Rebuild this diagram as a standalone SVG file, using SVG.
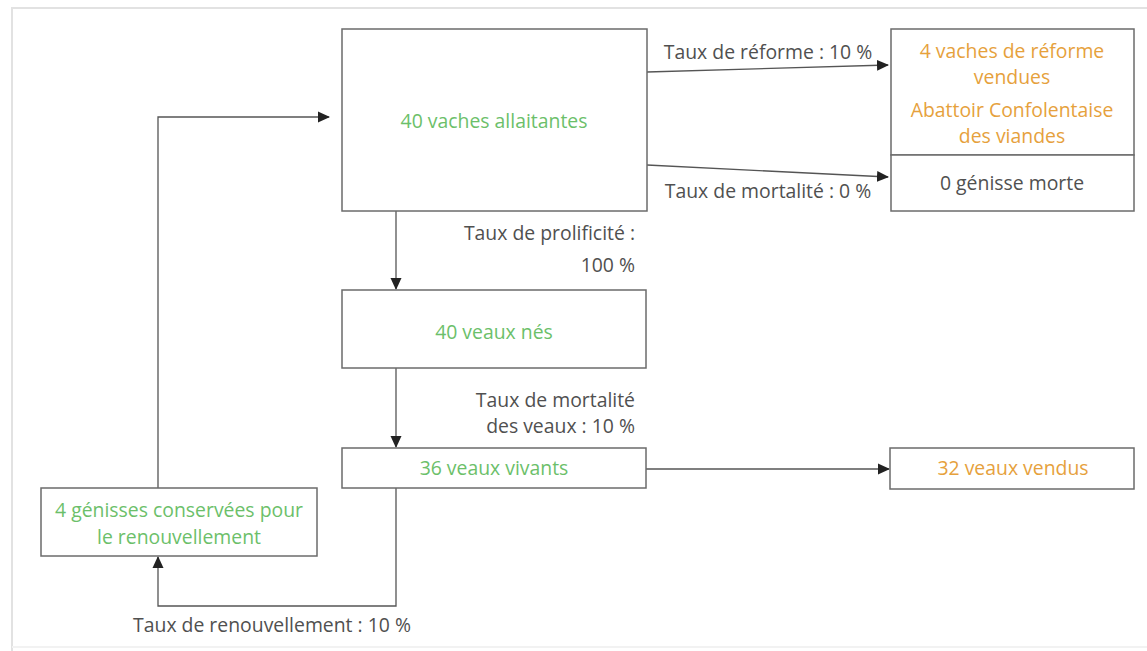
<svg xmlns="http://www.w3.org/2000/svg" width="1147" height="651" viewBox="0 0 1147 651">
<defs>
<style>
.box{fill:#fff;stroke:#6b6b6b;stroke-width:1.5}
.t{font-family:"Open Sans","Noto Sans",sans-serif;font-size:19.4px}
.g{fill:#6cbf6a}
.o{fill:#e6a13c}
.k{fill:#505050}
.c{text-anchor:middle}
.r{text-anchor:end}
.ln{fill:none;stroke:#555;stroke-width:1.3}
</style>
<marker id="ah" markerWidth="12" markerHeight="12" refX="11" refY="6" orient="auto" markerUnits="userSpaceOnUse">
<path d="M0,0.5 L12,6 L0,11.5 Z" fill="#222"/>
</marker>
</defs>
<rect width="1147" height="651" fill="#fff"/>
<path d="M12,651 L12,8 L1147,8" fill="none" stroke="#e2e2e2" stroke-width="2"/>
<path d="M12,647 L1147,647" fill="none" stroke="#f2f2f2" stroke-width="2"/>

<g id="connectors">
<path class="ln" d="M647,72 L888,65" marker-end="url(#ah)"/>
<path class="ln" d="M647,165 L888,177" marker-end="url(#ah)"/>
<path class="ln" d="M396,211 L396,289" marker-end="url(#ah)"/>
<path class="ln" d="M396,368 L396,447" marker-end="url(#ah)"/>
<path class="ln" d="M646,469 L889,469" marker-end="url(#ah)"/>
<path class="ln" d="M396,488 L396,606 L158,606 L158,557" marker-end="url(#ah)"/>
<path class="ln" d="M158,488 L158,117 L329,117" marker-end="url(#ah)"/>
<text class="t k c" x="768" y="59">Taux de réforme : 10 %</text>
<text class="t k c" x="768" y="198">Taux de mortalité : 0 %</text>
<text class="t k r" x="635" y="240">Taux de prolificité :</text>
<text class="t k r" x="635" y="272">100 %</text>
<text class="t k r" x="635" y="407">Taux de mortalité</text>
<text class="t k r" x="635" y="433">des veaux : 10 %</text>
<text class="t k c" x="272" y="632">Taux de renouvellement : 10 %</text>
</g>

<g id="vaches">
<rect class="box" x="342" y="29" width="305" height="182"/>
<text class="t g c" x="494" y="128">40 vaches allaitantes</text>
</g>

<g id="reforme">
<rect class="box" x="891" y="29" width="243" height="126"/>
<text class="t o c" x="1012" y="58">4 vaches de réforme</text>
<text class="t o c" x="1012" y="84">vendues</text>
<text class="t o c" x="1012" y="117">Abattoir Confolentaise</text>
<text class="t o c" x="1012" y="143">des viandes</text>
</g>

<g id="morte">
<rect class="box" x="891" y="155" width="243" height="56"/>
<text class="t k c" x="1012" y="190">0 génisse morte</text>
</g>

<g id="veaux-nes">
<rect class="box" x="342" y="290" width="304" height="78"/>
<text class="t g c" x="494" y="339">40 veaux nés</text>
</g>

<g id="veaux-vivants">
<rect class="box" x="342" y="448" width="304" height="40"/>
<text class="t g c" x="494" y="475">36 veaux vivants</text>
</g>

<g id="veaux-vendus">
<rect class="box" x="890" y="448" width="244" height="41"/>
<text class="t o c" x="1013" y="475">32 veaux vendus</text>
</g>

<g id="genisses">
<rect class="box" x="41" y="488" width="276" height="68"/>
<text class="t g c" x="179" y="517">4 génisses conservées pour</text>
<text class="t g c" x="179" y="544">le renouvellement</text>
</g>
</svg>
